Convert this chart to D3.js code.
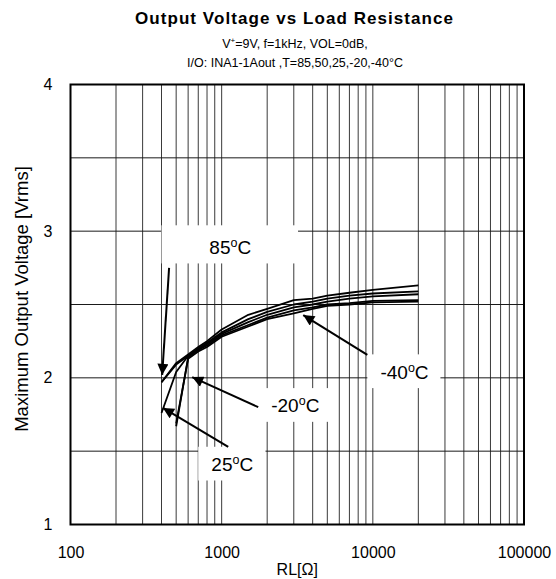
<!DOCTYPE html>
<html lang="en">
<head>
<meta charset="UTF-8">
<title>Output Voltage vs Load Resistance</title>
<script src="https://d3js.org/d3.v7.min.js"></script>
<style>
    body { margin: 0; background: #fff; font-family: "Liberation Sans", Arial, sans-serif; }
    svg text { font-family: "Liberation Sans", Arial, sans-serif; fill: #000; }
</style>
</head>
<body>
<div id="chart"></div>
<script>
// measured load resistance points (ohm)
const rlPoints = [400, 500, 600, 700, 800, 1000, 1500, 2000, 3000, 4000, 5000, 7000, 10000, 20000];

// max output voltage [Vrms] per temperature
const v85  = [1.97, 2.10, 2.16, 2.21, 2.25, 2.33, 2.43, 2.47, 2.53, 2.54, 2.56, 2.58, 2.60, 2.63];
const v50  = [1.97, 2.09, 2.15, 2.20, 2.24, 2.31, 2.40, 2.45, 2.50, 2.52, 2.54, 2.56, 2.575, 2.59];
const v25  = [1.76, 2.04, 2.15, 2.19, 2.23, 2.30, 2.38, 2.43, 2.48, 2.50, 2.52, 2.54, 2.555, 2.57];
const vm20 = [null, 1.67, 2.14, 2.19, 2.22, 2.29, 2.36, 2.41, 2.46, 2.48, 2.50, 2.51, 2.525, 2.53];
const vm40 = [null, 1.69, 2.13, 2.18, 2.21, 2.28, 2.35, 2.40, 2.44, 2.47, 2.49, 2.50, 2.515, 2.52];

const seriesList = [v85, v50, v25, vm20, vm40];

const xTicks = [100, 1000, 10000, 100000];
const yTicks = [1, 2, 3, 4];

// temperature call-outs in data units: label centre, white box corners, arrow tail and tip
const callouts = [
    { text: "85",  at: [1140, 2.89],  box: [[400, 3.04], [3200, 2.78]],  from: [449, 2.75],  tip: [404, 2.02] },
    { text: "25",  at: [1175, 1.41],  box: [[700, 1.53], [1950, 1.30]],  from: [1105, 1.53], tip: [409, 1.795] },
    { text: "-20", at: [3070, 1.815], box: [[1700, 1.93], [5100, 1.70]], from: [1745, 1.80], tip: [638, 2.005] },
    { text: "-40", at: [16200, 2.04], box: [[9200, 2.16], [28000, 1.93]], from: [9200, 2.156], tip: [3465, 2.428] }
];

const W = 556, H = 579;
const margin = { top: 84.5, right: 32, bottom: 54.5, left: 70.5 };
const width = W - margin.left - margin.right;
const height = H - margin.top - margin.bottom;

const svg = d3.select("#chart").append("svg")
    .attr("width", W)
    .attr("height", H);

const x = d3.scaleLog().domain([100, 100000]).range([0, width]);
const y = d3.scaleLinear().domain([1, 4]).range([height, 0]);

const g = svg.append("g").attr("transform", `translate(${margin.left},${margin.top})`);

// grid lines
const vGrid = [];
for (let d = 100; d < 100000; d *= 10) {
    for (let k = 2; k <= 10; k++) vGrid.push(d * k);
}
g.selectAll(".vgrid")
    .data(vGrid.filter(v => v < 100000))
    .join("line")
    .attr("x1", d => x(d)).attr("x2", d => x(d))
    .attr("y1", 0).attr("y2", height)
    .attr("stroke", "#3a3a3a")
    .attr("stroke-width", 1);

g.selectAll(".hgrid")
    .data(d3.range(1.5, 4, 0.5))
    .join("line")
    .attr("x1", 0).attr("x2", width)
    .attr("y1", d => y(d)).attr("y2", d => y(d))
    .attr("stroke", "#1a1a1a")
    .attr("stroke-width", 1);

// curves
const line = d3.line()
    .defined(d => d[1] != null)
    .x(d => x(d[0]))
    .y(d => y(d[1]));

seriesList.forEach(vals => {
    g.append("path")
        .datum(rlPoints.map((r, i) => [r, vals[i]]))
        .attr("fill", "none")
        .attr("stroke", "#000")
        .attr("stroke-width", 1.8)
        .attr("stroke-linejoin", "round")
        .attr("d", line);
});

// arrow head
svg.append("defs").append("marker")
    .attr("id", "ah")
    .attr("viewBox", "0 0 10 10")
    .attr("refX", 10).attr("refY", 5)
    .attr("markerWidth", 7).attr("markerHeight", 5.5)
    .attr("markerUnits", "strokeWidth")
    .attr("orient", "auto")
    .append("path")
    .attr("d", "M0,0 L10,5 L0,10 z")
    .attr("fill", "#000");

// call-out labels with arrows
callouts.forEach(c => {
    const [b0, b1] = c.box;
    g.append("rect")
        .attr("x", x(b0[0])).attr("y", y(b0[1]))
        .attr("width", x(b1[0]) - x(b0[0]))
        .attr("height", y(b1[1]) - y(b0[1]))
        .attr("fill", "#fff");

    const t = g.append("text")
        .attr("x", x(c.at[0])).attr("y", y(c.at[1]) + 7)
        .attr("text-anchor", "middle")
        .style("font-size", "19px");
    t.append("tspan").text(c.text);
    t.append("tspan").attr("dy", -7).style("font-size", "12.5px").text("o");
    t.append("tspan").attr("dy", 7).text("C");

    g.append("line")
        .attr("x1", x(c.from[0])).attr("y1", y(c.from[1]))
        .attr("x2", x(c.tip[0])).attr("y2", y(c.tip[1]))
        .attr("stroke", "#000")
        .attr("stroke-width", 2)
        .attr("marker-end", "url(#ah)");
});

// plot border
g.append("rect")
    .attr("width", width).attr("height", height)
    .attr("fill", "none")
    .attr("stroke", "#000")
    .attr("stroke-width", 2);

// axes (labels only)
const xAxis = g.append("g")
    .attr("transform", `translate(0,${height})`)
    .call(d3.axisBottom(x).tickValues(xTicks).tickFormat(d3.format("d")).tickSize(0).tickPadding(22));
xAxis.select(".domain").remove();
xAxis.selectAll("text").style("font-size", "16px").attr("fill", "#000");

const yAxis = g.append("g")
    .call(d3.axisLeft(y).tickValues(yTicks).tickFormat(d3.format("d")).tickSize(0).tickPadding(18));
yAxis.select(".domain").remove();
yAxis.selectAll("text").style("font-size", "16px").attr("fill", "#000");

// axis titles
svg.append("text")
    .attr("x", margin.left + width / 2)
    .attr("y", 575)
    .attr("text-anchor", "middle")
    .style("font-size", "16px")
    .text("RL[Ω]");

svg.append("text")
    .attr("transform", `translate(28,299) rotate(-90)`)
    .attr("text-anchor", "middle")
    .style("font-size", "18.5px")
    .text("Maximum Output Voltage [Vrms]");

// titles
svg.append("text")
    .attr("x", 294).attr("y", 24)
    .attr("text-anchor", "middle")
    .attr("textLength", 318)
    .attr("lengthAdjust", "spacing")
    .style("font-size", "17px")
    .style("font-weight", "bold")
    .text("Output Voltage vs Load Resistance");

const sub1 = svg.append("text")
    .attr("x", 295).attr("y", 48)
    .attr("text-anchor", "middle")
    .style("font-size", "12.5px");
sub1.append("tspan").text("V");
sub1.append("tspan").attr("dy", -5).style("font-size", "8px").text("+");
sub1.append("tspan").attr("dy", 5).text("=9V, f=1kHz, VOL=0dB,");

svg.append("text")
    .attr("x", 295).attr("y", 67)
    .attr("text-anchor", "middle")
    .style("font-size", "12.5px")
    .text("I/O: INA1-1Aout ,T=85,50,25,-20,-40\u00B0C");
</script>
</body>
</html>
